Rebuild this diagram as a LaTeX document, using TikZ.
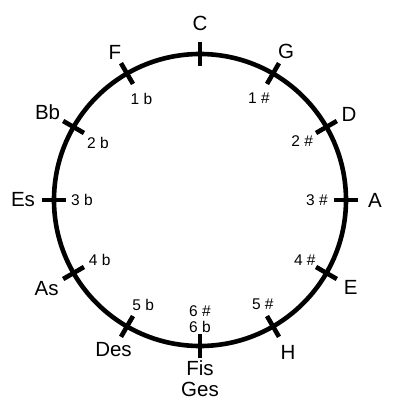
\documentclass[tikz,border=0pt]{standalone}
\usepackage{fontspec}
\setmainfont{Liberation Sans}
\begin{document}
\begin{tikzpicture}[x=1pt,y=1pt,
  ring/.style={line width=4.6pt},
  tick/.style={line width=4.6pt},
  keyname/.style={font=\fontsize{20.5}{18}\selectfont, inner sep=0pt, align=center},
  acc/.style={font=\fontsize{15.5}{16.5}\selectfont, inner sep=0pt, align=center}]
\useasboundingbox (-200,-200) rectangle (200,200);
\fill[white] (-200,-200) rectangle (200,200);
\draw[ring] (0,0) circle (146);
\foreach \a in {0,30,...,330} {
  \draw[tick] (\a:134) -- (\a:158);
}
\node[keyname] (C) at (90:177) {C};
\node[keyname] (G) at (60:172) {G};
\node[keyname] (D) at (30:172) {D};
\node[keyname] (A) at (0:175) {A};
\node[keyname] (E) at (-30:174) {E};
\node[keyname] (H) at (-60:176) {H};
\node[keyname] (Fis) at (0,-168.5) {Fis};
\node[keyname] (Ges) at (0,-189.5) {Ges};
\node[keyname] (Des) at (-120:173) {Des};
\node[keyname] (As) at (-150:177) {As};
\node[keyname] (Es) at (180:177) {Es};
\node[keyname] (Bb) at (150:176) {Bb};
\node[keyname] (F) at (120:170) {F};
\node[acc] (s1) at (60:118) {1 \#};
\node[acc] (s2) at (30:118) {2 \#};
\node[acc] (s3) at (0:117) {3 \#};
\node[acc] (s4) at (-30:121) {4 \#};
\node[acc] (s5) at (-59:122) {5 \#};
\node[acc] (s6) at (0,-111) {6 \#};
\node[acc] (f6) at (0,-127) {6 b};
\node[acc] (f5) at (-118.5:119) {5 b};
\node[acc] (f4) at (-149:117) {4 b};
\node[acc] (f3) at (180:118) {3 b};
\node[acc] (f2) at (150.8:117) {2 b};
\node[acc] (f1) at (120:117) {1 b};
\end{tikzpicture}
\end{document}
